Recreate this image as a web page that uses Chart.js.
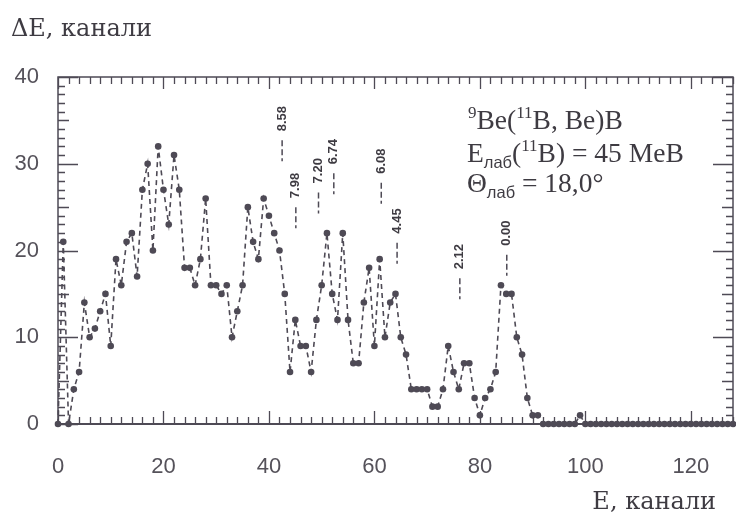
<!DOCTYPE html>
<html><head><meta charset="utf-8">
<script src="https://cdn.jsdelivr.net/npm/chart.js@4/dist/chart.umd.min.js"></script>
<style>html,body{margin:0;padding:0;background:#fff}#wrap{width:736px;height:519px}</style>
</head><body><div id="wrap"><canvas id="c" width="736" height="519"></canvas></div>
<script>
// counts per channel, channel = index (0..128)
const counts = [
  0,21,0,4,6,14,10,11,13,15,
  9,19,16,21,22,17,27,30,20,32,
  27,23,31,27,18,18,16,19,26,16,
  16,15,16,10,13,16,25,21,19,26,
  24,22,20,15,6,12,9,9,6,12,
  16,22,15,12,22,12,7,7,14,18,
  9,19,10,14,15,10,8,4,4,4,
  4,2,2,4,9,6,4,7,7,3,
  1,3,4,6,16,15,15,10,8,3,
  1,1,0,0,0,0,0,0,0,1,
  0,0,0,0,0,0,0,0,0,0,
  0,0,0,0,0,0,0,0,0,0,
  0,0,0,0,0,0,0,0,0
];
const xTicks = [0,20,40,60,80,100,120];
const yTicks = [0,10,20,30,40];
// excitation-energy markers
const peakLabels   = ['8.58','7.98','7.20','6.74','6.08','4.45','2.12','0.00'];
const peakChannels = [42.5, 45.1, 49.4, 52.3, 61.3, 64.3, 76.2, 85.1];
const peakTops     = [32.7, 25.0, 26.7, 28.9, 27.8, 20.9, 16.8, 19.5];

const INK = '#4e4a55';
const TXT = '#3e3b42';

const framePlugin = {
  id:'frame',
  beforeDatasetsDraw(chart){
    const {ctx, chartArea:a, scales:{x,y}} = chart;
    ctx.save();
    ctx.strokeStyle = INK; ctx.lineWidth = 1.5;
    ctx.strokeRect(a.left, a.top, a.right-a.left, a.bottom-a.top);
    ctx.lineWidth = 2.2;
    ctx.beginPath(); ctx.moveTo(a.left, a.bottom); ctx.lineTo(a.right, a.bottom); ctx.stroke();
    ctx.lineWidth = 1.3;
    ctx.beginPath();
    for(let c=0;c<=x.max;c+=2){
      const px = Math.round(x.getPixelForValue(c))+0.5;
      const L = (c%20===0)?13:7;
      ctx.moveTo(px,a.bottom); ctx.lineTo(px,a.bottom-L);
      const T = (c%20===0)?12:7;
      ctx.moveTo(px,a.top); ctx.lineTo(px,a.top+T);
    }
    for(let v=0;v<=y.max;v+=1){
      const py = Math.round(y.getPixelForValue(v))+0.5;
      const L = (v%10===0)?20:(v%5===0?11:7);
      ctx.moveTo(a.left,py); ctx.lineTo(a.left+L,py);
      ctx.moveTo(a.right,py); ctx.lineTo(a.right-L,py);
    }
    ctx.stroke();
    ctx.restore();
  }
};

const notePlugin = {
  id:'notes',
  afterDatasetsDraw(chart){
    const {ctx, scales:{x,y}} = chart;
    ctx.save();
    ctx.strokeStyle = INK; ctx.fillStyle = TXT; ctx.lineWidth = 1.5;
    ctx.font = 'bold 13px "Liberation Sans", Arial, sans-serif';
    peakLabels.forEach((lab,i)=>{
      const px = x.getPixelForValue(peakChannels[i]);
      const py = y.getPixelForValue(peakTops[i]);
      ctx.setLineDash([6,3]);
      ctx.beginPath(); ctx.moveTo(px,py); ctx.lineTo(px,py+21); ctx.stroke();
      ctx.setLineDash([]);
      ctx.save();
      ctx.translate(px, py-9); ctx.rotate(-Math.PI/2);
      ctx.textAlign='left'; ctx.textBaseline='middle';
      ctx.fillText(lab,0,0);
      ctx.restore();
    });
    ctx.restore();
  },
  afterDraw(chart){
    const {ctx} = chart;
    ctx.save();
    ctx.fillStyle = TXT;
    ctx.textBaseline = 'alphabetic';
    ctx.font = '24px "DejaVu Serif", serif';
    ctx.textAlign='left';
    ctx.fillText('ΔE, канали', 11, 36);
    ctx.textAlign='right';
    ctx.fillText('E, канали', 716, 509);
    ctx.textAlign='left';
    const F = 27.5;
    function rich(x0, yb, parts){
      let xx = x0;
      parts.forEach(p=>{
        let size=F, dy=0, fam='"Liberation Serif", "Times New Roman", serif';
        if(p.s==='sup'){size=F*0.62; dy=-F*0.40;}
        if(p.s==='sub'){size=F*0.6; dy=F*0.22; fam='"Liberation Sans", Arial, sans-serif';}
        ctx.font = size+'px '+fam;
        ctx.fillText(p.t, xx, yb+dy);
        xx += ctx.measureText(p.t).width;
      });
    }
    rich(468,129,[{t:'9',s:'sup'},{t:'Be('},{t:'11',s:'sup'},{t:'B, Be)B'}]);
    rich(467,162,[{t:'E'},{t:'лаб',s:'sub'},{t:'('},{t:'11',s:'sup'},{t:'B) = 45 MeB'}]);
    rich(467,192,[{t:'Θ'},{t:'лаб',s:'sub'},{t:' = 18,0°'}]);
    ctx.restore();
  }
};

new Chart(document.getElementById('c'), {
  type:'line',
  data:{ datasets:[{
    data: counts.map((v,i)=>({x:i,y:v})),
    borderColor: INK, borderWidth:1.6, borderDash:[5,4],
    pointRadius:3.3, pointBackgroundColor: INK, pointBorderWidth:0,
    tension:0, fill:false, clip:false
  }]},
  options:{
    responsive:false, animation:false,
    layout:{autoPadding:false, padding:{left:0,right:3,top:77,bottom:0}},
    plugins:{legend:{display:false}, tooltip:{enabled:false}, title:{display:false}},
    scales:{
      x:{ type:'linear', min:0, max:128,
        grid:{display:false, drawTicks:false}, border:{display:false},
        afterBuildTicks:(s)=>{ s.ticks = xTicks.map(v=>({value:v})); },
        afterFit:(s)=>{ s.height = 95; s.paddingLeft = 0; s.paddingRight = 0; },
        ticks:{ color:'#55525a', padding:30, maxRotation:0, autoSkip:false,
          font:{family:'"Liberation Sans", Arial, sans-serif', size:22} } },
      y:{ type:'linear', min:0, max:40,
        grid:{display:false, drawTicks:false}, border:{display:false},
        afterBuildTicks:(s)=>{ s.ticks = yTicks.map(v=>({value:v})); },
        afterFit:(s)=>{ s.width = 58; s.paddingTop = 0; s.paddingBottom = 0; },
        ticks:{ color:'#55525a', padding:19,
          font:{family:'"Liberation Sans", Arial, sans-serif', size:22} } }
    }
  },
  plugins:[framePlugin, notePlugin]
});
</script></body></html>
